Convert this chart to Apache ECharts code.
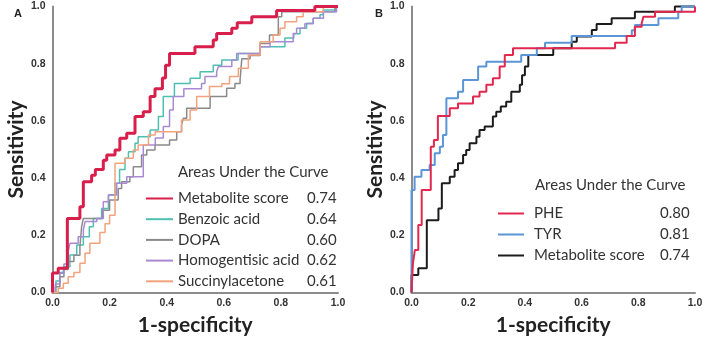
<!DOCTYPE html>
<html>
<head>
<meta charset="utf-8">
<script src="https://cdn.jsdelivr.net/npm/echarts@6/dist/echarts.min.js"></script>
<style>
  html, body { margin: 0; padding: 0; background: #fff; }
  #chart { width: 709px; height: 348px; }
</style>
</head>
<body>
<div id="chart"></div>
<script>
// panel A: ROC points (x where the jump happens, new sensitivity)
const scoreA_fpr = [0, 0, 0.02, 0.052, 0.096, 0.108, 0.137, 0.15, 0.178, 0.19, 0.219, 0.236, 0.26, 0.289, 0.318, 0.342, 0.359, 0.385, 0.396, 0.41, 0.499, 0.563, 0.575, 0.628, 0.647, 0.698, 0.785, 0.919, 1]
const scoreA_tpr = [0, 0.068, 0.085, 0.259, 0.30, 0.387, 0.41, 0.43, 0.462, 0.481, 0.498, 0.539, 0.557, 0.615, 0.632, 0.685, 0.712, 0.75, 0.795, 0.836, 0.859, 0.883, 0.906, 0.924, 0.943, 0.964, 0.986, 1, 1]

const benzoic_fpr = [0, 0.012, 0.025, 0.038, 0.061, 0.085, 0.108, 0.129, 0.143, 0.172, 0.196, 0.219, 0.235, 0.254, 0.266, 0.289, 0.30, 0.342, 0.371, 0.388, 0.427, 0.482, 0.517, 0.563, 0.593, 0.65, 0.727, 0.814, 0.845, 0.867, 0.89, 0.913, 0.937, 0.948, 0.99, 1]
const benzoic_tpr = [0, 0.04, 0.07, 0.09, 0.131, 0.166, 0.195, 0.23, 0.259, 0.294, 0.341, 0.382, 0.43, 0.469, 0.492, 0.522, 0.545, 0.568, 0.615, 0.685, 0.731, 0.749, 0.772, 0.795, 0.813, 0.836, 0.859, 0.89, 0.905, 0.924, 0.941, 0.959, 0.971, 0.988, 1, 1]

const dopa_fpr = [0, 0.01, 0.026, 0.04, 0.055, 0.075, 0.096, 0.102, 0.108, 0.175, 0.2, 0.23, 0.242, 0.271, 0.283, 0.312, 0.33, 0.359, 0.41, 0.435, 0.452, 0.458, 0.47, 0.552, 0.61, 0.639, 0.657, 0.663, 0.692, 0.727, 0.76, 0.791, 0.803, 0.99, 1]
const dopa_tpr = [0, 0.02, 0.055, 0.08, 0.108, 0.13, 0.16, 0.23, 0.259, 0.288, 0.323, 0.364, 0.387, 0.405, 0.44, 0.481, 0.498, 0.516, 0.533, 0.562, 0.586, 0.609, 0.644, 0.685, 0.714, 0.731, 0.743, 0.817, 0.829, 0.871, 0.9, 0.964, 0.982, 1, 1]

const homog_fpr = [0, 0.01, 0.026, 0.04, 0.055, 0.061, 0.09, 0.108, 0.114, 0.155, 0.178, 0.196, 0.225, 0.26, 0.318, 0.36, 0.388, 0.41, 0.423, 0.46, 0.522, 0.534, 0.575, 0.581, 0.628, 0.645, 0.727, 0.762, 0.843, 0.855, 0.884, 0.913, 0.949, 0.995, 1]
const homog_tpr = [0, 0.03, 0.067, 0.1, 0.143, 0.172, 0.195, 0.219, 0.248, 0.259, 0.317, 0.341, 0.382, 0.405, 0.516, 0.54, 0.58, 0.638, 0.685, 0.712, 0.731, 0.755, 0.772, 0.79, 0.813, 0.836, 0.859, 0.877, 0.906, 0.924, 0.94, 0.959, 0.982, 1, 1]

const succ_fpr = [0, 0.02, 0.038, 0.055, 0.075, 0.096, 0.114, 0.131, 0.166, 0.184, 0.2, 0.219, 0.254, 0.283, 0.3, 0.336, 0.36, 0.452, 0.482, 0.505, 0.55, 0.593, 0.62, 0.651, 0.686, 0.727, 0.773, 0.797, 0.814, 0.855, 0.878, 0.949, 1]
const succ_tpr = [0, 0.015, 0.032, 0.055, 0.07, 0.102, 0.137, 0.172, 0.21, 0.24, 0.27, 0.452, 0.469, 0.498, 0.516, 0.551, 0.562, 0.603, 0.638, 0.685, 0.72, 0.73, 0.755, 0.784, 0.83, 0.877, 0.9, 0.924, 0.947, 0.964, 0.982, 1, 1]

// panel B
const phe_fpr = [0, 0.005, 0.012, 0.024, 0.036, 0.068, 0.079, 0.093, 0.135, 0.164, 0.217, 0.24, 0.264, 0.287, 0.311, 0.329, 0.358, 0.718, 0.759, 0.788, 0.812, 0.818, 0.859, 1]
const phe_tpr = [0, 0.102, 0.149, 0.236, 0.358, 0.51, 0.533, 0.617, 0.644, 0.661, 0.685, 0.702, 0.726, 0.749, 0.79, 0.83, 0.854, 0.873, 0.897, 0.929, 0.941, 0.964, 0.982, 1]

const tyr_fpr = [0, 0, 0.011, 0.035, 0.064, 0.082, 0.1, 0.111, 0.123, 0.164, 0.182, 0.235, 0.264, 0.387, 0.442, 0.471, 0.565, 0.777, 0.788, 0.871, 0.941, 0.953, 1]
const tyr_tpr = [0, 0.358, 0.405, 0.428, 0.446, 0.487, 0.51, 0.551, 0.679, 0.702, 0.743, 0.79, 0.807, 0.83, 0.854, 0.873, 0.897, 0.917, 0.935, 0.959, 0.982, 1, 1]

const scoreB_fpr = [0, 0, 0.024, 0.054, 0.095, 0.107, 0.135, 0.152, 0.164, 0.182, 0.193, 0.205, 0.229, 0.24, 0.258, 0.287, 0.299, 0.315, 0.334, 0.352, 0.382, 0.39, 0.4, 0.412, 0.5, 0.565, 0.583, 0.636, 0.653, 0.706, 0.788, 0.929, 1]
const scoreB_tpr = [0, 0.061, 0.085, 0.253, 0.294, 0.382, 0.405, 0.428, 0.452, 0.481, 0.498, 0.522, 0.545, 0.568, 0.58, 0.615, 0.632, 0.65, 0.667, 0.702, 0.726, 0.76, 0.79, 0.83, 0.854, 0.877, 0.895, 0.918, 0.939, 0.959, 0.982, 1, 1]

const namesA = ['Metabolite score', 'Benzoic acid', 'DOPA', 'Homogentisic acid', 'Succinylacetone']
const aucA = ['0.74', '0.64', '0.60', '0.62', '0.61']
const namesB = ['PHE', 'TYR', 'Metabolite score ']
const aucB = ['0.80', '0.81', '0.74']
const ticks = [0, 0.2, 0.4, 0.6, 0.8, 1.0]

const zip = (xs, ys) => xs.map((x, i) => [x, ys[i]])

const chart = echarts.init(document.getElementById('chart'))

const axisLine = { lineStyle: { color: '#8c8c8c', width: 2 } }
const tickLabel = { color: '#333', fontWeight: 'bold', fontSize: 10.5, fontFamily: 'Liberation Sans', formatter: v => v.toFixed(1) }
const titleText = { color: '#222', fontWeight: 'bold', fontSize: 21, fontFamily: 'Lato' }

const makeX = (idx) => ({
    type: 'value', gridIndex: idx, min: ticks[0], max: ticks[ticks.length - 1], interval: 0.2,
    axisLine: axisLine, axisTick: { show: false }, splitLine: { show: false },
    axisLabel: Object.assign({ margin: 5 }, tickLabel),
    name: '1-specificity', nameLocation: 'middle', nameGap: 22, nameTextStyle: titleText
})
const makeY = (idx, gap) => ({
    type: 'value', gridIndex: idx, min: ticks[0], max: ticks[ticks.length - 1], interval: 0.2,
    axisLine: axisLine, axisTick: { show: false }, splitLine: { show: false },
    axisLabel: Object.assign({ margin: 7 }, tickLabel),
    name: 'Sensitivity', nameLocation: 'middle', nameGap: gap, nameTextStyle: titleText
})

const line = (name, idx, data, color, width) => ({
    name: name, type: 'line', xAxisIndex: idx, yAxisIndex: idx,
    data: data, step: 'end', symbol: 'none', clip: false,
    lineStyle: { color: color, width: width }, itemStyle: { color: color }
})

const legendText = (w, pad) => ({
    color: '#333', fontSize: 15, fontFamily: 'Lato', lineHeight: 14,
    rich: {
        n: { width: w, padding: [0, 0, 0, pad], fontSize: 15, fontFamily: 'Lato', color: '#333', lineHeight: 14 },
        v: { fontSize: 15, fontFamily: 'Lato', color: '#333', lineHeight: 14 }
    }
})

const option = {
    animation: false,
    title: [
        { text: 'A', left: 9, top: 3, textStyle: { fontSize: 11, fontWeight: 'bold', fontFamily: 'Liberation Sans', color: '#222' } },
        { text: 'B', left: 370, top: 3, textStyle: { fontSize: 11, fontWeight: 'bold', fontFamily: 'Liberation Sans', color: '#222' } },
        { text: 'Areas Under the Curve', left: 173, top: 160, textStyle: { fontSize: 15, fontWeight: 'normal', fontFamily: 'Lato', color: '#333' } },
        { text: 'Areas Under the Curve', left: 530, top: 173, textStyle: { fontSize: 15, fontWeight: 'normal', fontFamily: 'Lato', color: '#333' } }
    ],
    grid: [
        { left: 52.5, top: 6.5, width: 285.5, height: 286 },
        { left: 411.5, top: 6.5, width: 283.5, height: 286 }
    ],
    legend: [
        {
            data: namesA, orient: 'vertical', left: 140, top: 186, itemWidth: 27, itemHeight: 14, itemGap: 5.7,
            itemStyle: { opacity: 0 }, selectedMode: false,
            formatter: n => '{n|' + n + '}{v|' + aucA[namesA.indexOf(n)] + '}',
            textStyle: legendText(129, 0)
        },
        {
            data: namesB, orient: 'vertical', left: 492, top: 201, itemWidth: 26, itemHeight: 14, itemGap: 6,
            itemStyle: { opacity: 0 }, selectedMode: false,
            formatter: n => '{n|' + n.trim() + '}{v|' + aucB[namesB.indexOf(n)] + '}',
            textStyle: legendText(126, 5)
        }
    ],
    xAxis: [makeX(0), makeX(1)],
    yAxis: [makeY(0, 26), makeY(1, 23)],
    series: [
        line(namesA[1], 0, zip(benzoic_fpr, benzoic_tpr), '#4fbfb2', 1.5),
        line(namesA[2], 0, zip(dopa_fpr, dopa_tpr), '#8a8a8a', 1.5),
        line(namesA[3], 0, zip(homog_fpr, homog_tpr), '#a88ad3', 1.5),
        line(namesA[4], 0, zip(succ_fpr, succ_tpr), '#f2a27c', 1.5),
        line(namesA[0], 0, zip(scoreA_fpr, scoreA_tpr), '#d81e4b', 3),
        line(namesB[2], 1, zip(scoreB_fpr, scoreB_tpr), '#1c1c1c', 2),
        line(namesB[1], 1, zip(tyr_fpr, tyr_tpr), '#5b95d6', 2),
        line(namesB[0], 1, zip(phe_fpr, phe_tpr), '#e3284f', 2)
    ]
}
chart.setOption(option)
</script>
</body>
</html>
